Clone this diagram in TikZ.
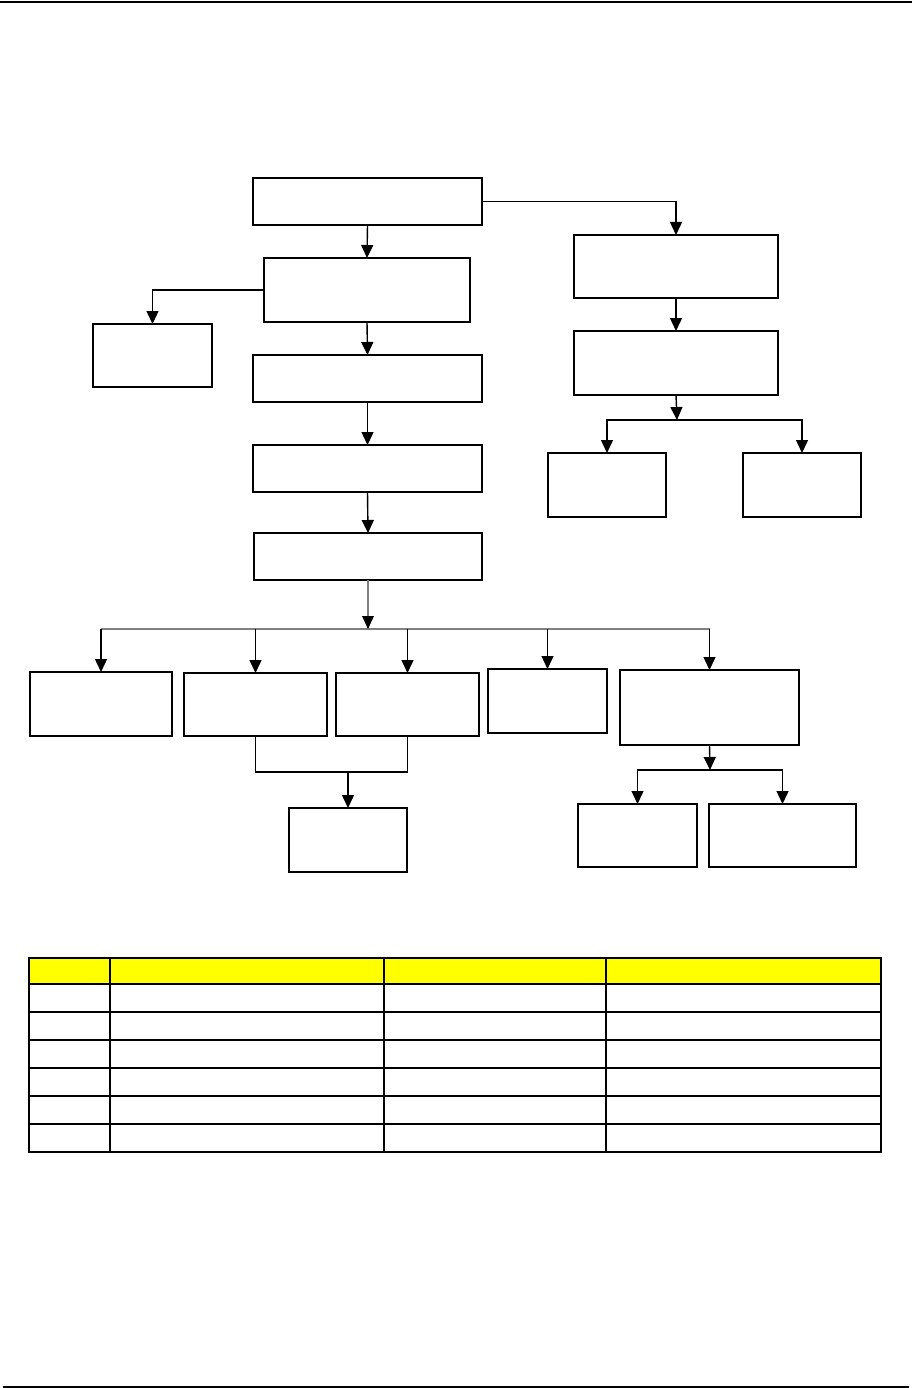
\documentclass[tikz,border=0pt]{standalone}
\usetikzlibrary{positioning,arrows.meta,calc}
\definecolor{HeadYellow}{HTML}{FFFF00}
\tikzset{
  blk/.style={draw, line width=1.5pt, inner sep=0pt, outer sep=0pt},
  arr/.style={line width=1.4pt, -{Triangle[length=13pt,width=12pt]}},
  bus/.style={line width=1.4pt, draw=black!50}
}
\begin{document}
\begin{tikzpicture}[x=1pt, y=-1pt]
  \useasboundingbox (0,0) rectangle (912,1388);
  \draw[line width=1.7pt] (0,2) -- (912,2);
  \draw[line width=1.7pt] (3,1387) -- (909,1387);

  % main column
  \node[blk, minimum width=229pt, minimum height=47pt] (top) at (367.5,201.5) {};
  \node[blk, minimum width=206pt, minimum height=64pt] (sel) at (367,290) {};
  \node[blk, minimum width=119pt, minimum height=63pt] (side) at (152.5,355.5) {};
  \node[blk, minimum width=229pt, minimum height=47pt] (s1) at (367.5,378.5) {};
  \node[blk, minimum width=229pt, minimum height=47pt] (s2) at (367.5,468.5) {};
  \node[blk, minimum width=228pt, minimum height=47pt] (s3) at (368,556.5) {};

  % right column
  \node[blk, minimum width=204pt, minimum height=63pt] (r1) at (676,266.5) {};
  \node[blk, minimum width=204pt, minimum height=64pt] (r2) at (676,363) {};
  \node[blk, minimum width=118pt, minimum height=64pt] (r3) at (607,485) {};
  \node[blk, minimum width=118pt, minimum height=64pt] (r4) at (802,485) {};

  % bottom row
  \node[blk, minimum width=142pt, minimum height=64pt] (g1) at (101,704) {};
  \node[blk, minimum width=143pt, minimum height=63pt] (g2) at (255.5,704.5) {};
  \node[blk, minimum width=143pt, minimum height=63pt] (g3) at (407.5,704.5) {};
  \node[blk, minimum width=119pt, minimum height=64pt] (g4) at (547.5,701) {};
  \node[blk, minimum width=179pt, minimum height=75pt] (g5) at (709.5,707.5) {};
  \node[blk, minimum width=118pt, minimum height=64pt] (h) at (348,840) {};
  \node[blk, minimum width=119pt, minimum height=63pt] (i1) at (637.5,835.5) {};
  \node[blk, minimum width=147pt, minimum height=63pt] (i2) at (782.5,835.5) {};

  \coordinate (rbus) at (677,420);
  \coordinate (fbus) at (368,629);
  \coordinate (hjoin) at (348,772);
  \coordinate (ibus) at (710,770);

  \draw[arr] (top.south) -- (sel.north);
  \draw[arr] (top.east) -| (r1.north);
  \draw[arr] (sel.west) -| (side.north);
  \draw[arr] (sel.south) -- (s1.north);
  \draw[arr] (s1.south) -- (s2.north);
  \draw[arr] (s2.south) -- (s3.north);
  \draw[arr] (r1.south) -- (r2.north);
  \draw[arr] (r2.south) -- (rbus);
  \draw[arr] (rbus) -| (r3.north);
  \draw[arr] (rbus) -| (r4.north);

  \draw[bus] (fbus -| g1.north) -- (fbus -| g5.north);
  \draw[bus] (s3.south) -- (fbus);
  \fill[black] (fbus) -- ++(-6,-13) -- ++(12,0) -- cycle;
  \foreach \g in {g1,g2,g3,g4,g5}
    \draw[arr] (fbus -| \g.north) -- (\g.north);

  \draw[line width=1.4pt] (g2.south) |- (hjoin) -| (g3.south);
  \draw[arr] (hjoin) -- (h.north);
  \draw[arr] (g5.south) -- (ibus);
  \draw[arr] (ibus) -| (i1.north);
  \draw[arr] (ibus) -| (i2.north);

  % table
  \fill[HeadYellow] (29,958) rectangle (881,984);
  \foreach \y in {984,1012,1040,1068,1096,1124}
    \draw[line width=1.3pt] (29,\y) -- (881,\y);
  \foreach \x in {110,384,606}
    \draw[line width=1.3pt] (\x,958) -- (\x,1152);
  \draw[line width=1.4pt] (29,958) rectangle (881,1152);
\end{tikzpicture}
\end{document}
